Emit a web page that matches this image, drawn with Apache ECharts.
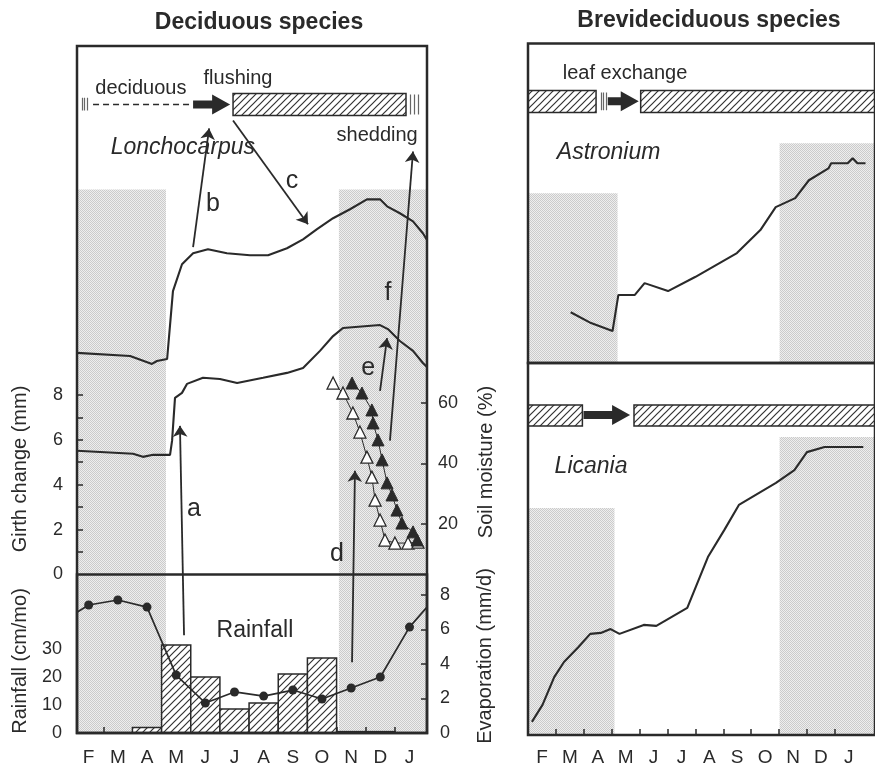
<!DOCTYPE html>
<html>
<head>
<meta charset="utf-8">
<script src="https://cdn.jsdelivr.net/npm/echarts@6.0.0/dist/echarts.min.js"></script>
<style>
  html, body { margin: 0; padding: 0; background: #fff; }
  #main { width: 875px; height: 769px; }
</style>
</head>
<body>
<div id="main"></div>
<script>
// ---- data (month index: 0 = F ... 11 = J) ----
var months = ['F', 'M', 'A', 'M', 'J', 'J', 'A', 'S', 'O', 'N', 'D', 'J'];

// Lonchocarpus girth change (mm), [month, value]
var girthLower = [[-0.4, 5.51], [1.52, 5.38], [1.86, 5.24], [2.21, 5.33], [2.79, 5.33], [2.86, 5.96],
  [2.96, 7.87], [3.2, 8.09], [3.37, 8.49], [3.92, 8.76], [4.5, 8.71], [5.09, 8.53], [5.98, 8.76],
  [6.8, 8.98], [7.35, 9.2], [7.93, 9.96], [8.38, 10.62], [8.72, 10.98], [9.99, 11.11], [10.26, 10.93],
  [10.67, 10.4], [11.12, 9.96], [11.46, 9.42], [11.6, 9.24]];
var girthUpper = [[-0.4, 9.87], [1.42, 9.73], [2.17, 9.38], [2.34, 9.51], [2.69, 9.6], [2.89, 12.62],
  [3.2, 13.82], [3.58, 14.31], [4.09, 14.49], [4.74, 14.31], [5.53, 14.22], [6.15, 14.22], [6.8, 14.53],
  [7.35, 14.93], [7.83, 15.38], [8.38, 15.87], [8.96, 16.27], [9.54, 16.71], [9.99, 16.71], [10.23, 16.4],
  [10.67, 16.09], [11.12, 15.73], [11.46, 15.2], [11.6, 14.9]];

// soil moisture (%)
var soilOpen = [[8.38, 66.6], [8.72, 63.3], [9.06, 56.7], [9.3, 50.4], [9.54, 42.1], [9.71, 35.5],
  [9.82, 27.9], [9.99, 21.3], [10.16, 14.7], [10.5, 13.7], [10.95, 13.7], [11.29, 14.0]];
var soilFilled = [[9.03, 66.6], [9.37, 63.3], [9.71, 57.7], [9.75, 53.4], [9.92, 47.8], [10.06, 41.2],
  [10.23, 33.6], [10.4, 29.6], [10.57, 24.6], [10.74, 20.3], [11.12, 17.4], [11.26, 14.7]];

// rainfall (cm/mo) and evaporation (mm/d) per month
var rainfall = [0, 0, 2, 31.4, 20, 8.6, 10.7, 21.1, 26.8, 0.5, 0.5, 0];
var evaporation = [7.42, 7.71, 7.3, 3.36, 1.74, 2.38, 2.14, 2.49, 1.97, 2.61, 3.25, 6.14];
var evapEdges = [[-0.4, 7.0], [11.6, 7.3]];

// Brevideciduous species, relative girth units
var astronium = [[1.03, 15.9], [1.76, 12.5], [2.53, 10.0], [2.74, 21.3], [3.33, 21.3], [3.68, 25.0],
  [4.52, 22.5], [5.49, 26.9], [6.99, 34.4], [7.83, 41.6], [8.38, 48.8], [9.08, 51.6], [9.57, 57.2],
  [10.27, 60.9], [10.37, 62.5], [10.96, 62.5], [11.14, 64.1], [11.31, 62.5], [11.6, 62.5]];
var licania = [[-0.36, 4.1], [0.02, 9.4], [0.44, 18.1], [0.79, 22.8], [1.31, 27.5], [1.73, 31.6],
  [2.11, 31.9], [2.46, 33.1], [2.78, 31.6], [3.65, 34.4], [4.1, 34.1], [5.21, 39.7], [5.95, 55.6],
  [6.54, 64.1], [7.06, 71.9], [8.39, 78.8], [9.05, 82.8], [9.5, 88.4], [10.13, 90.0], [11.52, 90.0]];

// dry season shading [fromMonth, toMonth, bottom, top]
var dryLeft = [[-0.4, 2.65, -7.06, 17.15], [8.58, 11.6, -7.06, 17.15]];
var dryAstronium = [[-0.5, 2.71, 0, 53.1], [8.52, 11.94, 0, 68.75]];
var dryLicania = [[-0.5, 2.6, 0, 70.9], [8.52, 11.94, 0, 93.1]];

// leaf phenology bars [fromMonth, toMonth, bottom, top]
var leafLeft = [[4.95, 10.88, 20.44, 21.42]];
var leafAstronium = [[-0.5, 1.94, 78.4, 85.3], [3.54, 11.94, 78.4, 85.3]];
var leafLicania = [[-0.5, 1.45, 96.6, 103.1], [3.3, 11.94, 96.6, 103.1]];
// transition arrows [fromMonth, toMonth, level]
var flushLeft = [[3.58, 4.85, 20.93]];
var flushAstronium = [[2.36, 3.47, 81.9]];
var flushLicania = [[1.49, 3.16, 100]];
var deciduousSpan = [[0.15, 20.93], [3.58, 20.93]];
// break marks [month, bottom, top]
var breaksLeft = [[-0.23, 20.67, 21.24], [-0.14, 20.67, 21.24], [-0.06, 20.67, 21.24],
  [11.02, 20.49, 21.38], [11.15, 20.49, 21.38], [11.29, 20.49, 21.38]];
var breaksAstronium = [[2.11, 79.1, 84.7], [2.2, 79.1, 84.7], [2.29, 79.1, 84.7]];

// annotation arrows (from -> to)
var notesArrows = [
  [[3.27, -2.71], [3.13, 6.62]],
  [[3.58, 14.58], [4.13, 19.87]],
  [[4.95, 20.22], [7.52, 15.6]],
  [[9.03, -3.91], [9.13, 4.62]],
  [[9.99, 8.18], [10.23, 10.53]],
  [[10.33, 5.96], [11.12, 18.84]]
];
// text notes [text, month, level, kind]
var notesLeft = [
  ['deciduous', 1.79, 21.63, 'plain'], ['flushing', 5.12, 22.1, 'plain'],
  ['shedding', 9.89, 19.55, 'plain'], ['Lonchocarpus', 3.23, 19.0, 'italic'],
  ['a', 3.61, 2.93, 'letter'], ['b', 4.26, 16.49, 'letter'], ['c', 6.97, 17.51, 'letter'],
  ['d', 8.51, 0.93, 'letter'], ['e', 9.58, 9.2, 'letter'], ['f', 10.26, 12.53, 'letter'],
  ['Rainfall', 5.7, -2.49, 'big']
];
var notesAstronium = [['leaf exchange', 2.98, 90.6, 'plain'], ['Astronium', 2.39, 65.9, 'italic']];
var notesLicania = [['Licania', 1.76, 83.75, 'italic']];

// ---- styles ----
var INK = '#2a2a2a';
var FAMILY = '"Liberation Sans", Arial, Helvetica, sans-serif';
var FONTS = {
  plain: '20px ' + FAMILY,
  italic: 'italic 23px ' + FAMILY,
  letter: '25px ' + FAMILY,
  big: '23px ' + FAMILY
};

function makeCanvas(w, h, draw) {
  var c = document.createElement('canvas');
  c.width = w; c.height = h;
  draw(c.getContext('2d'));
  return c;
}
var hatch = makeCanvas(7, 7, function (ctx) {
  ctx.fillStyle = '#fff'; ctx.fillRect(0, 0, 7, 7);
  ctx.strokeStyle = '#333'; ctx.lineWidth = 1.2;
  ctx.beginPath();
  ctx.moveTo(-1, 8); ctx.lineTo(8, -1);
  ctx.moveTo(-1, 1); ctx.lineTo(1, -1);
  ctx.moveTo(6, 8); ctx.lineTo(8, 6);
  ctx.stroke();
});
var stipple = makeCanvas(2, 2, function (ctx) {
  ctx.fillStyle = '#eeeeee'; ctx.fillRect(0, 0, 2, 2);
  ctx.fillStyle = '#cbcbcb'; ctx.fillRect(0, 0, 1, 1); ctx.fillRect(1, 1, 1, 1);
});
var hatchFill = { image: hatch, repeat: 'repeat' };
var stippleFill = { image: stipple, repeat: 'repeat' };

function rectRender(fill, stroke, lw) {
  return function (params, api) {
    var p0 = api.coord([api.value(0), api.value(3)]);
    var p1 = api.coord([api.value(1), api.value(2)]);
    return {
      type: 'rect',
      shape: { x: p0[0], y: p0[1], width: p1[0] - p0[0], height: p1[1] - p0[1] },
      style: { fill: fill, stroke: stroke || null, lineWidth: lw || 0 }
    };
  };
}
function rectSeries(data, xi, yi, fill, stroke, lw, z) {
  return {
    type: 'custom', xAxisIndex: xi, yAxisIndex: yi, z: z, silent: true,
    encode: { x: [0, 1], y: [2, 3] },
    renderItem: rectRender(fill, stroke, lw), data: data
  };
}
function arrowSeries(data, xi, yi) {
  return {
    type: 'custom', xAxisIndex: xi, yAxisIndex: yi, z: 6, silent: true,
    encode: { x: [0, 1], y: 2 },
    renderItem: function (params, api) {
      var a = api.coord([api.value(0), api.value(2)]);
      var b = api.coord([api.value(1), api.value(2)]);
      var y = a[1], hl = 18, hh = 10, sh = 4;
      return {
        type: 'polygon',
        shape: { points: [[a[0], y - sh], [b[0] - hl, y - sh], [b[0] - hl, y - hh], [b[0], y],
          [b[0] - hl, y + hh], [b[0] - hl, y + sh], [a[0], y + sh]] },
        style: { fill: INK }
      };
    },
    data: data
  };
}
function textSeries(notes, xi, yi) {
  return {
    type: 'custom', xAxisIndex: xi, yAxisIndex: yi, z: 8, silent: true,
    encode: { x: 0, y: 1 },
    renderItem: function (params, api) {
      var n = notes[params.dataIndex];
      var p = api.coord([api.value(0), api.value(1)]);
      return {
        type: 'text', x: p[0], y: p[1],
        style: {
          text: n[0], font: FONTS[n[3]], fill: INK,
          textAlign: 'center', textVerticalAlign: 'middle',
          align: 'center', verticalAlign: 'middle',
          backgroundColor: n[3] === 'italic' && xi === 0 ? '#fff' : null,
          padding: [0, 3]
        }
      };
    },
    data: notes.map(function (n) { return [n[1], n[2]]; })
  };
}
function breakSeries(data, xi, yi) {
  return {
    type: 'lines', coordinateSystem: 'cartesian2d', xAxisIndex: xi, yAxisIndex: yi, z: 6,
    silent: true, symbol: 'none',
    lineStyle: { color: '#666', width: 1.2, opacity: 1 },
    data: data.map(function (b) { return { coords: [[b[0], b[1]], [b[0], b[2]]] }; })
  };
}
function curveSeries(data, xi, yi) {
  return {
    type: 'line', xAxisIndex: xi, yAxisIndex: yi, z: 5, silent: true,
    symbol: 'none', lineStyle: { color: INK, width: 2.1 }, data: data
  };
}

var labelStyle = { color: INK, fontFamily: FAMILY };
function hiddenX(grid, min, max) {
  return { gridIndex: grid, type: 'value', min: min, max: max, show: false };
}
function monthX(grid, min, max, margin) {
  return {
    gridIndex: grid, type: 'value', min: min, max: max, z: 10,
    axisLine: { show: false, onZero: false }, splitLine: { show: false },
    axisTick: { inside: true, length: 6, lineStyle: { color: INK, width: 1.5 },
      customValues: [0.5, 1.5, 2.5, 3.5, 4.5, 5.5, 6.5, 7.5, 8.5, 9.5, 10.5] },
    axisLabel: Object.assign({ fontSize: 19, margin: margin,
      customValues: [0, 1, 2, 3, 4, 5, 6, 7, 8, 9, 10, 11],
      formatter: function (v) { return months[Math.round(v)]; } }, labelStyle)
  };
}
function valueY(grid, pos, min, max, labels, ticks, margin) {
  return {
    gridIndex: grid, type: 'value', position: pos, min: min, max: max, z: 10,
    axisLine: { show: false, onZero: false }, splitLine: { show: false },
    axisTick: { show: ticks.length > 0, inside: true, length: 6,
      lineStyle: { color: INK, width: 1.5 }, customValues: ticks },
    axisLabel: Object.assign({ fontSize: 18, margin: margin, customValues: labels }, labelStyle)
  };
}

var frame = { show: true, borderColor: INK, borderWidth: 2.5, backgroundColor: 'transparent', z: 20 };

var evapData = [{ value: evapEdges[0], symbol: 'none' }]
  .concat(evaporation.map(function (v, i) { return [i, v]; }))
  .concat([{ value: evapEdges[1], symbol: 'none' }]);
var rainBars = [];
rainfall.forEach(function (v, i) { if (v > 0) rainBars.push([i - 0.5, i + 0.5, 0, v]); });

var option = {
  animation: false,
  backgroundColor: '#fff',
  textStyle: { fontFamily: FAMILY },
  grid: [
    Object.assign({ left: 77, right: 448, top: 46, bottom: 36 }, frame),
    Object.assign({ left: 77, right: 448, top: 574.5, bottom: 36 }, frame),
    { left: 77, right: 448, top: 372.75, bottom: 184.5, show: false },
    Object.assign({ left: 528, right: -10, top: 43.5, bottom: 406 }, frame),
    Object.assign({ left: 528, right: -10, top: 363, bottom: 34 }, frame)
  ],
  xAxis: [
    monthX(0, -0.4, 11.6, 15),
    hiddenX(1, -0.4, 11.6),
    hiddenX(2, -0.4, 11.6),
    hiddenX(3, -0.5, 11.94),
    monthX(4, -0.5, 11.94, 13)
  ],
  yAxis: [
    valueY(0, 'left', -7.06, 23.54, [0, 2, 4, 6, 8], [1, 2, 3, 4, 5, 6, 7, 8], 14),
    valueY(1, 'left', 0, 56.6, [0, 10, 20, 30], [], 15),
    valueY(1, 'right', 0, 9.19, [0, 2, 4, 6, 8], [2, 4, 6, 8], 13),
    valueY(2, 'right', 0, 70, [20, 40, 60], [20, 40, 60], 11),
    { gridIndex: 3, type: 'value', min: 0, max: 100, show: false },
    { gridIndex: 4, type: 'value', min: 0, max: 116.25, show: false }
  ],
  graphic: [
    { type: 'text', x: 259, y: 23, style: { text: 'Deciduous species', font: 'bold 23px ' + FAMILY,
      fill: INK, textAlign: 'center', textVerticalAlign: 'middle' } },
    { type: 'text', x: 709, y: 21, style: { text: 'Brevideciduous species', font: 'bold 23px ' + FAMILY,
      fill: INK, textAlign: 'center', textVerticalAlign: 'middle' } },
    { type: 'text', x: 20, y: 469, rotation: Math.PI / 2, style: { text: 'Girth change (mm)',
      font: '20px ' + FAMILY, fill: INK, textAlign: 'center', textVerticalAlign: 'middle' } },
    { type: 'text', x: 20, y: 661, rotation: Math.PI / 2, style: { text: 'Rainfall (cm/mo)',
      font: '20px ' + FAMILY, fill: INK, textAlign: 'center', textVerticalAlign: 'middle' } },
    { type: 'text', x: 486, y: 462, rotation: Math.PI / 2, style: { text: 'Soil moisture (%)',
      font: '20px ' + FAMILY, fill: INK, textAlign: 'center', textVerticalAlign: 'middle' } },
    { type: 'text', x: 485, y: 656, rotation: Math.PI / 2, style: { text: 'Evaporation (mm/d)',
      font: '20px ' + FAMILY, fill: INK, textAlign: 'center', textVerticalAlign: 'middle' } }
  ],
  series: [
    // dry season shading
    rectSeries(dryLeft, 0, 0, stippleFill, null, 0, 1),
    rectSeries(dryAstronium, 3, 4, stippleFill, null, 0, 1),
    rectSeries(dryLicania, 4, 5, stippleFill, null, 0, 1),
    // leaf phenology
    rectSeries(leafLeft, 0, 0, hatchFill, INK, 1.5, 4),
    rectSeries(leafAstronium, 3, 4, hatchFill, INK, 1.5, 4),
    rectSeries(leafLicania, 4, 5, hatchFill, INK, 1.5, 4),
    arrowSeries(flushLeft, 0, 0),
    arrowSeries(flushAstronium, 3, 4),
    arrowSeries(flushLicania, 4, 5),
    breakSeries(breaksLeft, 0, 0),
    breakSeries(breaksAstronium, 3, 4),
    {
      type: 'lines', coordinateSystem: 'cartesian2d', xAxisIndex: 0, yAxisIndex: 0, z: 5,
      silent: true, symbol: 'none',
      lineStyle: { color: INK, width: 1.3, type: [6, 4], opacity: 1 },
      data: [{ coords: deciduousSpan }]
    },
    // rainfall bars
    rectSeries(rainBars, 1, 1, hatchFill, INK, 1.5, 12),
    // girth curves
    curveSeries(girthUpper, 0, 0),
    curveSeries(girthLower, 0, 0),
    curveSeries(astronium, 3, 4),
    curveSeries(licania, 4, 5),
    // evaporation
    {
      type: 'line', xAxisIndex: 1, yAxisIndex: 2, z: 13, silent: true,
      symbol: 'circle', symbolSize: 9, showAllSymbol: true,
      lineStyle: { color: INK, width: 1.7 }, itemStyle: { color: INK },
      data: evapData
    },
    // annotation arrows
    {
      type: 'lines', coordinateSystem: 'cartesian2d', xAxisIndex: 0, yAxisIndex: 0, z: 11,
      silent: true, symbol: ['none', 'arrow'], symbolSize: 11,
      lineStyle: { color: INK, width: 1.8, opacity: 1 },
      data: notesArrows.map(function (c) { return { coords: c }; })
    },
    // soil moisture
    {
      type: 'line', xAxisIndex: 2, yAxisIndex: 3, z: 14, silent: true,
      symbol: 'triangle', symbolSize: 12, showAllSymbol: true,
      lineStyle: { color: INK, width: 1 },
      itemStyle: { color: '#fff', borderColor: INK, borderWidth: 1.3 },
      data: soilOpen
    },
    {
      type: 'line', xAxisIndex: 2, yAxisIndex: 3, z: 14, silent: true,
      symbol: 'triangle', symbolSize: 12, showAllSymbol: true,
      lineStyle: { color: INK, width: 1 },
      itemStyle: { color: INK, borderColor: INK, borderWidth: 1 },
      data: soilFilled
    },
    // notes
    textSeries(notesLeft, 0, 0),
    textSeries(notesAstronium, 3, 4),
    textSeries(notesLicania, 4, 5)
  ]
};

var chart = echarts.init(document.getElementById('main'));
chart.setOption(option);
</script>
</body>
</html>
